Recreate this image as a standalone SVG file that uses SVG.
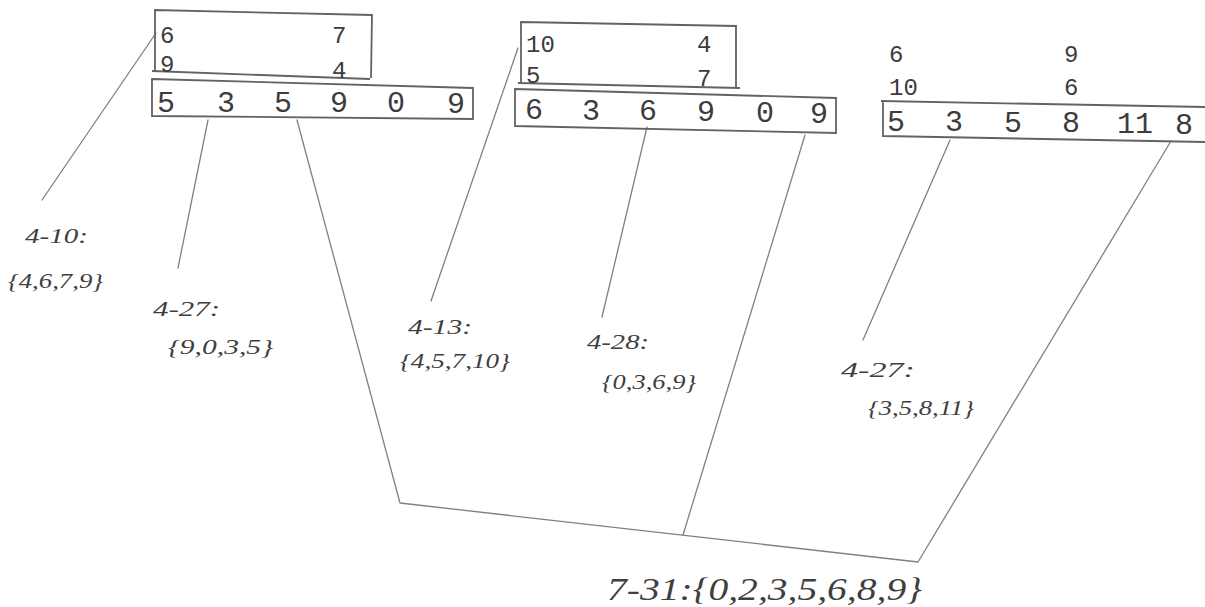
<svg xmlns="http://www.w3.org/2000/svg" width="1205" height="607" viewBox="0 0 1205 607">
<style>
.bg{fill:#ffffff}
.box{fill:none;stroke:#636363;stroke-width:1.8;stroke-linejoin:miter}
.pen{fill:none;stroke:#808080;stroke-width:1.3;stroke-linecap:round;stroke-linejoin:round}
.ty{font-family:"Liberation Mono",monospace;fill:#3c3c3c}
.sm{font-size:24px}
.lg{font-size:30px}
.hw{font-family:"Liberation Serif",serif;font-style:italic;fill:#3f3f3f;font-size:22px}
.big{font-size:32px}
</style>
<rect class="bg" x="0" y="0" width="1205" height="607"/>

<g id="connectors">
  <path class="pen" d="M156,33 L42,200"/>
  <path class="pen" d="M208,120 L178,268"/>
  <path class="pen" d="M297,120 L400,503 L918,562 L1171,141"/>
  <path class="pen" d="M805,135 L683,535"/>
  <path class="pen" d="M518,48 L431,301"/>
  <path class="pen" d="M647,127 L602,317"/>
  <path class="pen" d="M950,140 L863,340"/>
</g>

<g id="box1-top">
  <path class="box" d="M155,71 L155,10 L372,15 L371,78"/>
  <path class="box" d="M152,71 L370,79"/>
  <text class="ty sm" x="160" y="43">6</text>
  <text class="ty sm" x="332" y="43">7</text>
  <text class="ty sm" x="160" y="72">9</text>
  <text class="ty sm" x="332" y="78">4</text>
</g>
<g id="box1-row">
  <path class="box" d="M152,79 L473,88 L473,119 L152,116 Z"/>
  <text class="ty lg" x="157" y="112">5</text>
  <text class="ty lg" x="217" y="112">3</text>
  <text class="ty lg" x="274" y="112">5</text>
  <text class="ty lg" x="330" y="112">9</text>
  <text class="ty lg" x="387" y="112">0</text>
  <text class="ty lg" x="447" y="113">9</text>
</g>

<g id="box2-top">
  <path class="box" d="M521,82 L521,22 L736,26 L736,87"/>
  <path class="box" d="M518,83 L740,88"/>
  <text class="ty sm" x="526" y="52">10</text>
  <text class="ty sm" x="697" y="52">4</text>
  <text class="ty sm" x="526" y="83">5</text>
  <text class="ty sm" x="697" y="86">7</text>
</g>
<g id="box2-row">
  <path class="box" d="M515,89 L836,98 L836,133 L515,126 Z"/>
  <text class="ty lg" x="525" y="119">6</text>
  <text class="ty lg" x="582" y="120">3</text>
  <text class="ty lg" x="639" y="120">6</text>
  <text class="ty lg" x="697" y="121">9</text>
  <text class="ty lg" x="756" y="122">0</text>
  <text class="ty lg" x="810" y="123">9</text>
</g>

<g id="box3-top">
  <text class="ty sm" x="889" y="62">6</text>
  <text class="ty sm" x="1064" y="62">9</text>
  <text class="ty sm" x="889" y="95">10</text>
  <text class="ty sm" x="1064" y="95">6</text>
</g>
<g id="box3-row">
  <path class="box" d="M1205,107 L881,101 M883,101 L883,137 M883,136 L1205,142"/>
  <text class="ty lg" x="887" y="131">5</text>
  <text class="ty lg" x="945" y="131">3</text>
  <text class="ty lg" x="1004" y="132">5</text>
  <text class="ty lg" x="1062" y="132">8</text>
  <text class="ty lg" x="1117" y="133">11</text>
  <text class="ty lg" x="1175" y="134">8</text>
</g>

<g id="label-4-10">
  <text class="hw" x="25" y="243" textLength="63" lengthAdjust="spacingAndGlyphs">4-10:</text>
  <text class="hw" x="8" y="288" textLength="95" lengthAdjust="spacingAndGlyphs">{4,6,7,9}</text>
</g>
<g id="label-4-27a">
  <text class="hw" x="153" y="316" textLength="67" lengthAdjust="spacingAndGlyphs">4-27:</text>
  <text class="hw" x="168" y="354" textLength="105" lengthAdjust="spacingAndGlyphs">{9,0,3,5}</text>
</g>
<g id="label-4-13">
  <text class="hw" x="408" y="334" textLength="64" lengthAdjust="spacingAndGlyphs">4-13:</text>
  <text class="hw" x="400" y="368" textLength="110" lengthAdjust="spacingAndGlyphs">{4,5,7,10}</text>
</g>
<g id="label-4-28">
  <text class="hw" x="587" y="349" textLength="62" lengthAdjust="spacingAndGlyphs">4-28:</text>
  <text class="hw" x="602" y="389" textLength="94" lengthAdjust="spacingAndGlyphs">{0,3,6,9}</text>
</g>
<g id="label-4-27b">
  <text class="hw" x="841" y="377" textLength="74" lengthAdjust="spacingAndGlyphs">4-27:</text>
  <text class="hw" x="868" y="415" textLength="106" lengthAdjust="spacingAndGlyphs">{3,5,8,11}</text>
</g>
<g id="label-7-31">
  <text class="hw big" x="607" y="600" textLength="315" lengthAdjust="spacingAndGlyphs">7-31:{0,2,3,5,6,8,9}</text>
</g>
</svg>
